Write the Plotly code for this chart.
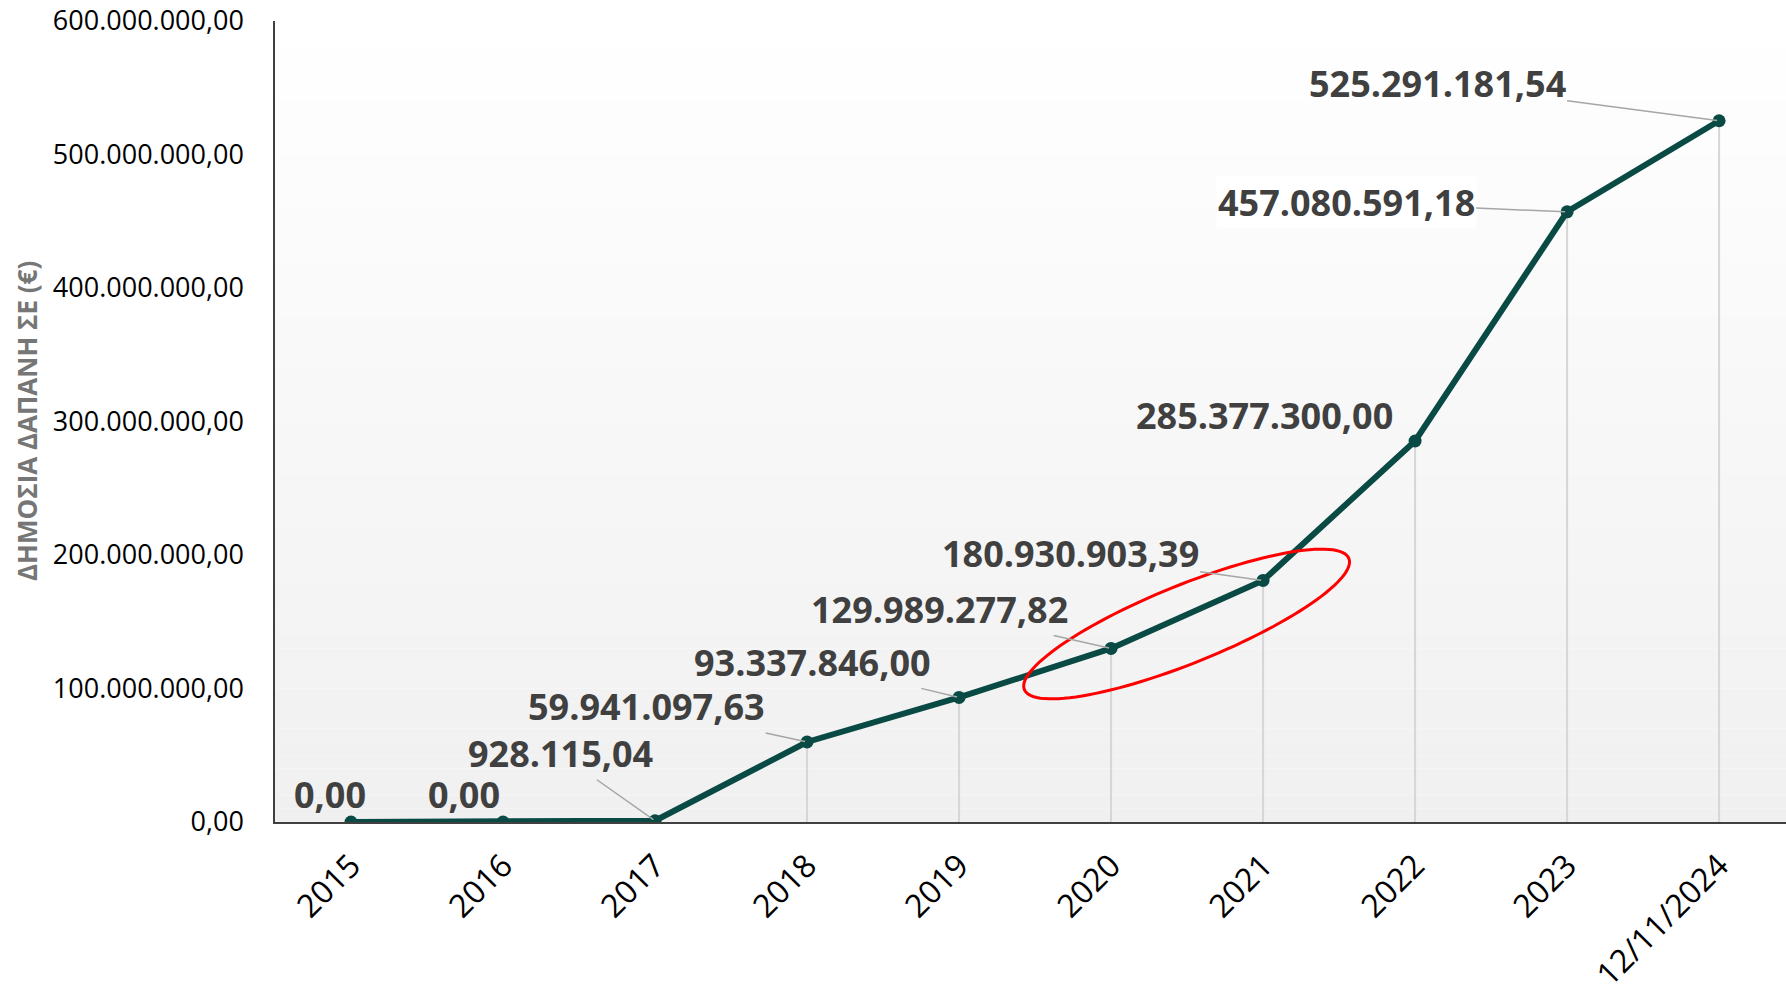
import numpy as np
import plotly.graph_objects as go

# data
categories = ["2015", "2016", "2017", "2018", "2019", "2020", "2021", "2022", "2023", "12/11/2024"]
spend = [0.00, 0.00, 928115.04, 59941097.63, 93337846.00, 129989277.82,
         180930903.39, 285377300.00, 457080591.18, 525291181.54]
y_ticks = [0, 100e6, 200e6, 300e6, 400e6, 500e6, 600e6]

# label offsets from each point, in px (dx, dy up), and whether a leader line is drawn
label_dx = [-21, -39, -95, -161, -147, -172, -193, -151, -221, -282]
label_dy = [28, 28, 67, 35, 35, 39, 27, 26, 9, 37]
leader = [False, False, True, True, True, True, True, False, True, True]

W, H = 1786, 993
ML, MR, MT, MB = 275, 0, 21, 171
X_RANGE = [-0.5, 9.44]
Y_RANGE = [0, 600e6]

LINE_COLOR = "#0a4a44"
LABEL_COLOR = "#404040"
FONT = "Open Sans"


def gr_number(v: float) -> str:
    s = f"{v:,.2f}"
    return s.replace(",", "X").replace(".", ",").replace("X", ".")


px_x = (W - ML - MR) / (X_RANGE[1] - X_RANGE[0])
px_y = (H - MT - MB) / (Y_RANGE[1] - Y_RANGE[0])

x_idx = list(range(len(categories)))

fig = go.Figure()

# drop lines from each point to the baseline
fig.add_trace(go.Scatter(
    x=x_idx, y=spend, mode="markers",
    marker=dict(size=1, color="rgba(0,0,0,0)"),
    error_y=dict(type="data", symmetric=False, array=[0] * len(spend), arrayminus=spend,
                 color="#d6d6d6", thickness=2, width=0),
    hoverinfo="skip", showlegend=False,
))

fig.add_trace(go.Scatter(
    x=x_idx, y=spend, mode="lines+markers",
    line=dict(color=LINE_COLOR, width=6),
    marker=dict(color=LINE_COLOR, size=13),
    showlegend=False,
))

# gradient plot background
bands = 60
for i in range(bands):
    t = i / (bands - 1)
    c = int(round(255 - (255 - 240) * (1 - t)))
    fig.add_shape(type="rect", xref="x domain", yref="y domain",
                  x0=0, x1=1, y0=i / bands, y1=(i + 1) / bands,
                  fillcolor=f"rgb({c},{c},{c})", line_width=0, layer="below")

# red highlight ellipse around 2020-2021
cx, cy = 5.497, 148.3e6
a, b, th = 175, 39, np.radians(22)
t = np.linspace(0, 2 * np.pi, 121)
ex = cx + (a * np.cos(t) * np.cos(th) - b * np.sin(t) * np.sin(th)) / px_x
ey = cy + (a * np.cos(t) * np.sin(th) + b * np.sin(t) * np.cos(th)) / px_y
path = "M " + " L ".join(f"{x:.4f},{y:.1f}" for x, y in zip(ex, ey)) + " Z"
fig.add_shape(type="path", path=path, xref="x", yref="y",
              line=dict(color="#ff0000", width=3), layer="above")

# data labels
for i, v in enumerate(spend):
    common = dict(x=i, y=v, xref="x", yref="y", text=gr_number(v),
                  font=dict(family=FONT, size=36, color=LABEL_COLOR, weight="bold"))
    if leader[i]:
        fig.add_annotation(**common, showarrow=True, arrowhead=0, arrowwidth=1.5,
                           arrowcolor="#a6a6a6", ax=label_dx[i], ay=-label_dy[i],
                           bgcolor="white" if i == 8 else None, standoff=2)
    else:
        fig.add_annotation(**common, showarrow=False,
                           xshift=label_dx[i], yshift=label_dy[i])

# y-axis title
fig.add_annotation(text="ΔΗΜΟΣΙΑ ΔΑΠΑΝΗ ΣΕ (€)", xref="paper", yref="paper",
                   x=0, y=(822 - 421) / (H - MT - MB), xanchor="center", yanchor="middle",
                   xshift=-248, textangle=-90, showarrow=False,
                   font=dict(family=FONT, size=26, color="#767676", weight="bold"))

fig.update_layout(
    width=W, height=H,
    margin=dict(l=ML, r=MR, t=MT, b=MB),
    paper_bgcolor="white", plot_bgcolor="white",
    font=dict(family=FONT, color="black"),
    xaxis=dict(range=X_RANGE, tickvals=x_idx, ticktext=categories, tickangle=-45,
               tickfont=dict(size=32), showgrid=False, zeroline=False,
               showline=True, linecolor="#404040", linewidth=2,
               ticks="outside", ticklen=10, tickcolor="rgba(0,0,0,0)",
               ticklabeloverflow="allow", automargin=False),
    yaxis=dict(range=Y_RANGE, tickvals=y_ticks, ticktext=[gr_number(v) for v in y_ticks],
               tickfont=dict(size=27), showgrid=False, zeroline=False,
               showline=True, linecolor="#404040", linewidth=1.5,
               ticks="outside", ticklen=24, tickcolor="rgba(0,0,0,0)",
               ticklabeloverflow="allow", automargin=False),
)

# drop the browser's default 8px body margin so the figure fills the window exactly
fig.write_html("out.html", config={"displayModeBar": False},
               post_script="document.body.style.margin = '0';")
